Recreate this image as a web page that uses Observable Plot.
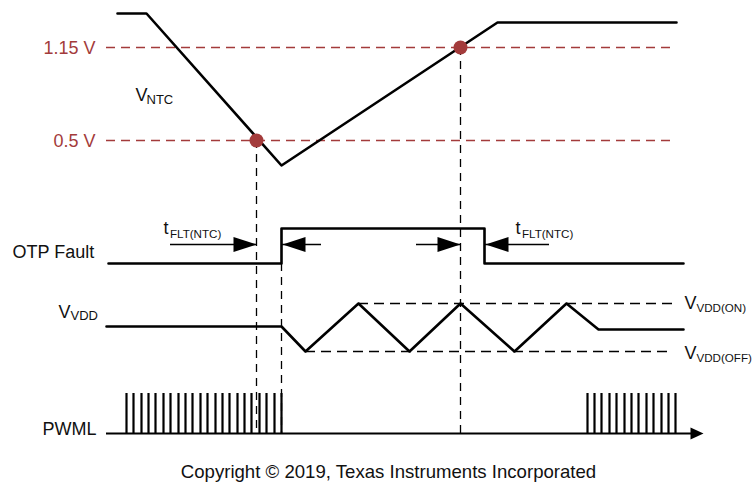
<!DOCTYPE html>
<html><head><meta charset="utf-8">
<script src="https://cdn.jsdelivr.net/npm/d3@7"></script>
<script src="https://cdn.jsdelivr.net/npm/@observablehq/plot@0.6"></script>
<style>
html,body{margin:0;padding:0;background:#fff;}
#chart{width:753px;height:455px;}
#caption{width:753px;height:28px;box-sizing:border-box;padding-top:3px;padding-left:24px;text-align:center;font-family:"Liberation Sans",Arial,sans-serif;font-size:18.6px;line-height:28px;color:#111;}
</style></head><body>
<div id="chart"></div>
<div id="caption"></div>
<script>
// ---- data (diagram time units on x, diagram level units on y) ----
const ntcTime  = [117, 146, 281, 497, 676];
const ntcLevel = [13, 13, 165, 22, 22];

const thresholdLabels = ["1.15 V", "0.5 V"];
const thresholdLevel  = [47, 140];
const thresholdSpan   = [106, 676];

const crossTime  = [256, 460];
const crossLevel = [140, 47];

const otpTime  = [108, 281, 281, 484, 484, 683];
const otpLevel = [263, 263, 228, 228, 263, 263];

const vddTime  = [106, 281, 305, 358, 409, 460, 514, 566, 598, 683];
const vddLevel = [326, 326, 351, 303, 351, 303, 351, 303, 329, 329];

const vddRefSubs  = ["VDD(ON)", "VDD(OFF)"];
const vddRefLevel = [303, 351];
const vddRefStart = [358, 305];
const vddRefEnd   = [673, 673];

const pwmlLow  = 433;
const pwmlHigh = 393;
const pwmlAxis = [106, 703];
const pulsesOn1 = [126,133,141,148,155,163,170,178,185,192,200,207,215,222,229,237,244,251,259,266,274,281];
const pulsesOn2 = [587,594,601,609,616,624,631,638,646,653,661,668,675];

const markerTime = [256, 281, 460];
const markerFrom = [140, 263, 47];

const delayTip  = [256, 282, 460, 485];
const delayTail = [170, 321, 416, 549];
const delayLevel = 244;

// labels: main text, subscript, anchor time, anchor level
const labelMain  = ["V", "OTP Fault", "V", "PWML", "t", "t", "V", "V"];
const labelSub   = ["NTC", "", "VDD", "", "FLT(NTC)", "FLT(NTC)", "VDD(ON)", "VDD(OFF)"];
const labelTime  = [135, 12, 58, 42, 163, 515, 684, 684];
const labelLevel = [100, 257, 317, 434, 233, 233, 308, 358];
const subTime    = [146, 0, 70, 0, 169.5, 521.5, 696, 696];
const subLevel   = [103, 0, 319, 0, 237, 237, 311, 361];

const captionText = "Copyright \u00A9 2019, Texas Instruments Incorporated";

// ---- build tables ----
const red = "#a33b3b";
const ntc = ntcTime.map((t, i) => ({t, v: ntcLevel[i]}));
const thresholds = thresholdLabels.map((label, i) => ({label, v: thresholdLevel[i]}));
const crosses = crossTime.map((t, i) => ({t, v: crossLevel[i]}));
const otp = otpTime.map((t, i) => ({t, v: otpLevel[i]}));
const vdd = vddTime.map((t, i) => ({t, v: vddLevel[i]}));
const vddRefs = vddRefSubs.map((s, i) => ({v: vddRefLevel[i], t1: vddRefStart[i], t2: vddRefEnd[i]}));
const pulses = pulsesOn1.concat(pulsesOn2).map(t => ({t}));
const markers = markerTime.map((t, i) => ({t, from: markerFrom[i]}));
const delays = delayTip.map((tip, i) => ({tip, tail: delayTail[i], v: delayLevel}));

function heads(list, len, hw) {
  const out = [];
  list.forEach((d, k) => {
    const dir = Math.sign(d.tip - d.tail);
    out.push({id: k, t: d.tip, v: d.v});
    out.push({id: k, t: d.tip - dir * len, v: d.v - hw});
    out.push({id: k, t: d.tip - dir * len, v: d.v + hw});
    out.push({id: k, t: d.tip, v: d.v});
  });
  return out;
}
const delayHeads = heads(delays, 23, 7.5);
const axisHead = heads([{tip: pwmlAxis[1], tail: pwmlAxis[0], v: pwmlLow}], 13, 6);

const labels = labelMain.map((m, i) => ({m, s: labelSub[i], t: labelTime[i], v: labelLevel[i], st: subTime[i], sv: subLevel[i]}));
const subs = labels.filter(d => d.s);

const font = "'Liberation Sans', Arial, Helvetica, sans-serif";

const chart = Plot.plot({
  width: 753,
  height: 455,
  margin: 0,
  style: {fontFamily: font, background: "white", overflow: "visible"},
  x: {type: "linear", domain: [0, 753], range: [0, 753], axis: null},
  y: {type: "linear", domain: [0, 455], range: [0, 455], axis: null},
  marks: [
    // threshold lines
    Plot.ruleY(thresholds, {y: "v", x1: thresholdSpan[0], x2: thresholdSpan[1], stroke: red, strokeWidth: 1.5, strokeDasharray: "9,6"}),
    Plot.text(thresholds, {x: thresholdSpan[0] - 11, y: "v", dy: 6.5, text: "label", textAnchor: "end", lineAnchor: "bottom", fontSize: 18, fill: red}),
    // vertical markers
    Plot.ruleX(markers, {x: "t", y1: "from", y2: pwmlLow, stroke: "black", strokeWidth: 1.3, strokeDasharray: "8,6"}),
    // VDD reference levels
    Plot.ruleY(vddRefs, {y: "v", x1: "t1", x2: "t2", stroke: "black", strokeWidth: 1.3, strokeDasharray: "10,6"}),
    // signals
    Plot.line(ntc, {x: "t", y: "v", stroke: "black", strokeWidth: 2.6, curve: "linear"}),
    Plot.line(otp, {x: "t", y: "v", stroke: "black", strokeWidth: 2.6, curve: "linear"}),
    Plot.line(vdd, {x: "t", y: "v", stroke: "black", strokeWidth: 2.6, curve: "linear"}),
    // PWML
    Plot.ruleY([pwmlLow], {x1: pwmlAxis[0], x2: pwmlAxis[1] - 10, stroke: "black", strokeWidth: 1.8}),
    Plot.ruleX(pulses, {x: "t", y1: pwmlLow, y2: pwmlHigh, stroke: "black", strokeWidth: 2.2}),
    Plot.line(axisHead, {x: "t", y: "v", z: "id", fill: "black", stroke: "none"}),
    // delay arrows
    Plot.ruleY(delays, {y: "v", x1: "tail", x2: "tip", stroke: "black", strokeWidth: 1.3}),
    Plot.line(delayHeads, {x: "t", y: "v", z: "id", fill: "black", stroke: "none"}),
    // crossing dots
    Plot.dot(crosses, {x: "t", y: "v", r: 7, fill: red, stroke: "none"}),
    // labels
    Plot.text(labels, {x: "t", y: "v", text: "m", textAnchor: "start", lineAnchor: "bottom", fontSize: 18, fill: "#111"}),
    Plot.text(subs, {x: "st", y: "sv", text: "s", textAnchor: "start", lineAnchor: "bottom", fontSize: d => d.s.length > 4 ? 11.6 : 13, fill: "#111"})
  ]
});
document.getElementById("chart").append(chart);
document.getElementById("caption").textContent = captionText;
</script>
</body></html>
